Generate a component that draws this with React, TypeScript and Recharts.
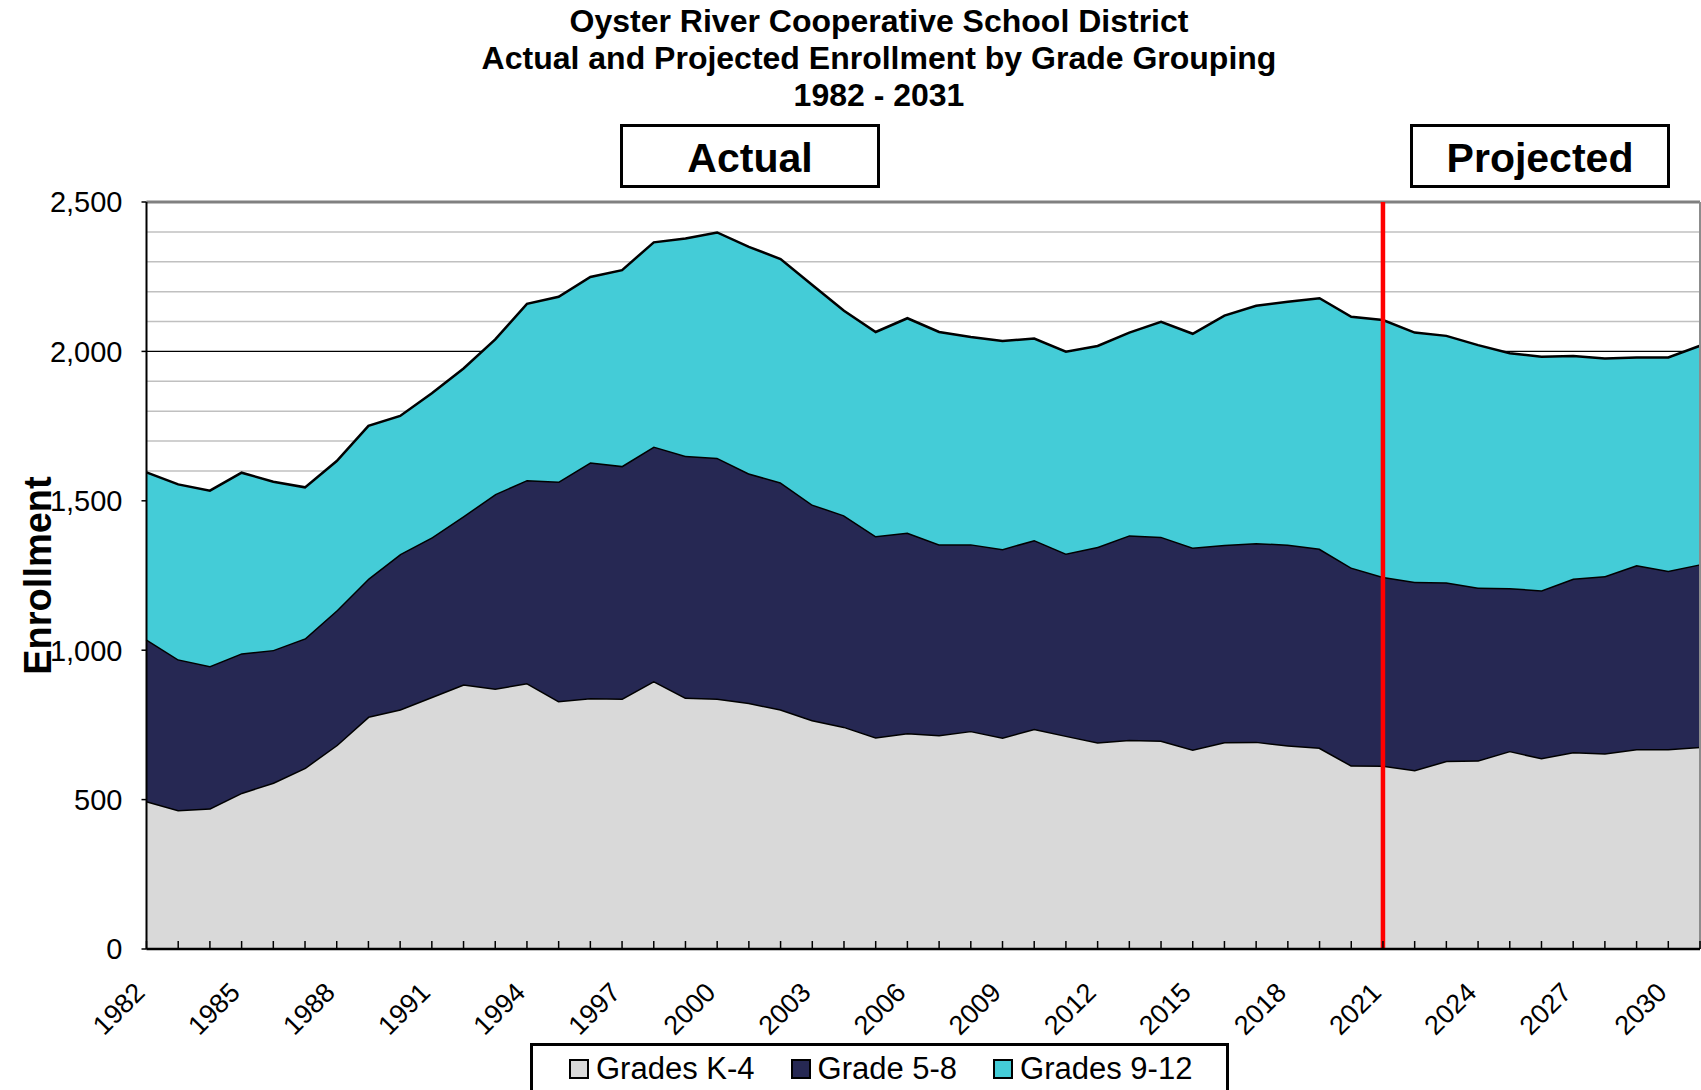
import React from 'react';
import { AreaChart, Area, XAxis, YAxis, CartesianGrid, ReferenceLine } from 'recharts';

const years = [
  1982, 1983, 1984, 1985, 1986, 1987, 1988, 1989, 1990, 1991,
  1992, 1993, 1994, 1995, 1996, 1997, 1998, 1999, 2000, 2001,
  2002, 2003, 2004, 2005, 2006, 2007, 2008, 2009, 2010, 2011,
  2012, 2013, 2014, 2015, 2016, 2017, 2018, 2019, 2020, 2021,
  2022, 2023, 2024, 2025, 2026, 2027, 2028, 2029, 2030, 2031,
];

const gradesK4 = [
  495, 465, 471, 523, 557, 607, 683, 778, 802, 844,
  886, 872, 890, 830, 840, 838, 897, 842, 838, 824,
  802, 766, 744, 709, 723, 716, 730, 708, 737, 714,
  692, 700, 698, 668, 693, 694, 682, 674, 615, 614,
  599, 630, 632, 663, 639, 659, 655, 669, 669, 677,
];

const grades58 = [
  542, 505, 476, 467, 444, 433, 451, 462, 520, 534,
  563, 651, 680, 735, 789, 779, 785, 809, 806, 768,
  760, 722, 708, 673, 671, 639, 625, 631, 632, 610,
  654, 685, 682, 676, 660, 665, 672, 666, 662, 632,
  630, 597, 578, 545, 562, 581, 593, 616, 597, 611,
];

const grades912 = [
  558, 585, 587, 604, 563, 505, 499, 511, 462, 482,
  494, 517, 589, 618, 620, 655, 683, 727, 754, 758,
  747, 734, 684, 683, 717, 710, 693, 696, 674, 675,
  672, 678, 719, 715, 767, 794, 812, 838, 839, 859,
  834, 825, 811, 786, 781, 745, 728, 695, 714, 731,
];

const yTicks = [
  0, 100, 200, 300, 400, 500, 600, 700, 800, 900, 1000, 1100, 1200,
  1300, 1400, 1500, 1600, 1700, 1800, 1900, 2000, 2100, 2200, 2300, 2400, 2500,
];

const titleLines = [
  'Oyster River Cooperative School District',
  'Actual and Projected Enrollment by Grade Grouping',
  '1982 - 2031',
];

const seriesNames = ['Grades K-4', 'Grade 5-8', 'Grades 9-12'];
const seriesColors = ['#d9d9d9', '#262853', '#44ccd7'];
const projectionYear = 2021;

const data = years.map((year, i) => ({
  year,
  k4: gradesK4[i],
  g58: grades58[i],
  g912: grades912[i],
}));

const FONT = '"Liberation Sans", Arial, sans-serif';

function YearTick(props: any) {
  const { x, y, payload } = props;
  const yr = payload.value;
  const showLabel = (yr - years[0]) % 3 === 0;
  const ly = y + 45;
  return (
    <g>
      <line x1={x} x2={x} y1={y} y2={y - 8} stroke="#000" strokeWidth={1.5} />
      {showLabel && (
        <text
          x={x}
          y={ly}
          transform={`rotate(-45 ${x} ${ly})`}
          textAnchor="end"
          fontSize={27}
          fontFamily={FONT}
          fill="#000"
        >
          {yr}
        </text>
      )}
    </g>
  );
}

function ValueTick(props: any) {
  const { x, y, payload } = props;
  if (payload.value % 500 !== 0) return <g />;
  return (
    <g>
      <line x1={x} x2={x - 5} y1={y} y2={y} stroke="#000" strokeWidth={1.5} />
      <text
        x={x - 24}
        y={y}
        dy="0.36em"
        textAnchor="end"
        fontSize={29}
        fontFamily={FONT}
        fill="#000"
      >
        {payload.value.toLocaleString('en-US')}
      </text>
    </g>
  );
}

function gridLine(p: any) {
  const major = p.index % 5 === 0;
  const top = p.index === yTicks.length - 1;
  return (
    <line
      key={p.key}
      x1={p.x1}
      x2={p.x2}
      y1={p.y1}
      y2={p.y2}
      stroke={top ? '#808080' : major ? '#000' : '#c0c0c0'}
      strokeWidth={top ? 3 : major ? 1.2 : 1.5}
    />
  );
}

const boxStyle: React.CSSProperties = {
  position: 'absolute',
  top: 124,
  height: 64,
  width: 260,
  border: '3px solid #000',
  boxSizing: 'border-box',
  display: 'flex',
  alignItems: 'center',
  justifyContent: 'center',
  paddingTop: 4,
  fontWeight: 'bold',
  fontSize: 41,
  background: '#fff',
};

export default function App() {
  return (
    <div
      style={{
        position: 'fixed',
        left: 0,
        top: 0,
        width: 1701,
        height: 1090,
        overflow: 'hidden',
        background: '#fff',
        fontFamily: FONT,
      }}
    >
      {titleLines.map((t, i) => (
        <div
          key={t}
          style={{
            position: 'absolute',
            left: 0,
            width: 1758,
            top: 3 + i * 37,
            textAlign: 'center',
            fontWeight: 'bold',
            fontSize: 32,
            lineHeight: '37px',
          }}
        >
          {t}
        </div>
      ))}
      <div style={{ ...boxStyle, left: 620 }}>Actual</div>
      <div style={{ ...boxStyle, left: 1410 }}>Projected</div>

      <AreaChart
        width={1701}
        height={1090}
        data={data}
        margin={{ top: 202, right: 1, bottom: 0, left: 0 }}
        style={{ position: 'absolute', left: 0, top: 0 }}
      >
        <CartesianGrid vertical={false} horizontal={gridLine} />
        <XAxis
          dataKey="year"
          type="number"
          domain={[years[0], years[years.length - 1]]}
          ticks={years}
          interval={0}
          height={141}
          tickSize={0}
          tickMargin={0}
          tick={<YearTick />}
          axisLine={{ stroke: '#000', strokeWidth: 2.5 }}
        />
        <YAxis
          type="number"
          domain={[0, 2500]}
          ticks={yTicks}
          interval={0}
          width={146.5}
          tickSize={0}
          tickMargin={0}
          tick={<ValueTick />}
          axisLine={{ stroke: '#000', strokeWidth: 2 }}
          label={{
            value: 'Enrollment',
            angle: -90,
            position: 'insideLeft',
            offset: 0,
            dx: 38,
            style: { fontSize: 38, fontWeight: 'bold', fill: '#000', fontFamily: FONT, textAnchor: 'middle' },
          }}
        />
        <Area
          type="linear"
          dataKey="k4"
          name={seriesNames[0]}
          stackId="1"
          fill={seriesColors[0]}
          fillOpacity={1}
          stroke="#000"
          strokeWidth={3}
          isAnimationActive={false}
        />
        <Area
          type="linear"
          dataKey="g58"
          name={seriesNames[1]}
          stackId="1"
          fill={seriesColors[1]}
          fillOpacity={1}
          stroke="#000"
          strokeWidth={3}
          isAnimationActive={false}
        />
        <Area
          type="linear"
          dataKey="g912"
          name={seriesNames[2]}
          stackId="1"
          fill={seriesColors[2]}
          fillOpacity={1}
          stroke="#000"
          strokeWidth={2.5}
          isAnimationActive={false}
        />
        <ReferenceLine x={years[years.length - 1]} stroke="#8c8c8c" strokeWidth={2} />
        <ReferenceLine x={projectionYear} stroke="#ff0000" strokeWidth={4.5} />
      </AreaChart>

      <div
        style={{
          position: 'absolute',
          left: 530,
          top: 1043,
          width: 699,
          height: 70,
          border: '3px solid #000',
          boxSizing: 'border-box',
          background: '#fff',
          display: 'flex',
          flexWrap: 'nowrap',
          alignItems: 'flex-start',
          paddingTop: 5,
          paddingLeft: 36,
          fontSize: 31,
          whiteSpace: 'nowrap',
        }}
      >
        {seriesNames.map((n, i) => (
          <div
            key={n}
            style={{ display: 'flex', alignItems: 'center', flexShrink: 0, marginRight: i < 2 ? 36 : 0 }}
          >
            <span
              style={{
                display: 'inline-block',
                flexShrink: 0,
                width: 16,
                height: 16,
                background: seriesColors[i],
                border: '2px solid #000',
                marginRight: 7,
              }}
            />
            <span>{n}</span>
          </div>
        ))}
      </div>
    </div>
  );
}
